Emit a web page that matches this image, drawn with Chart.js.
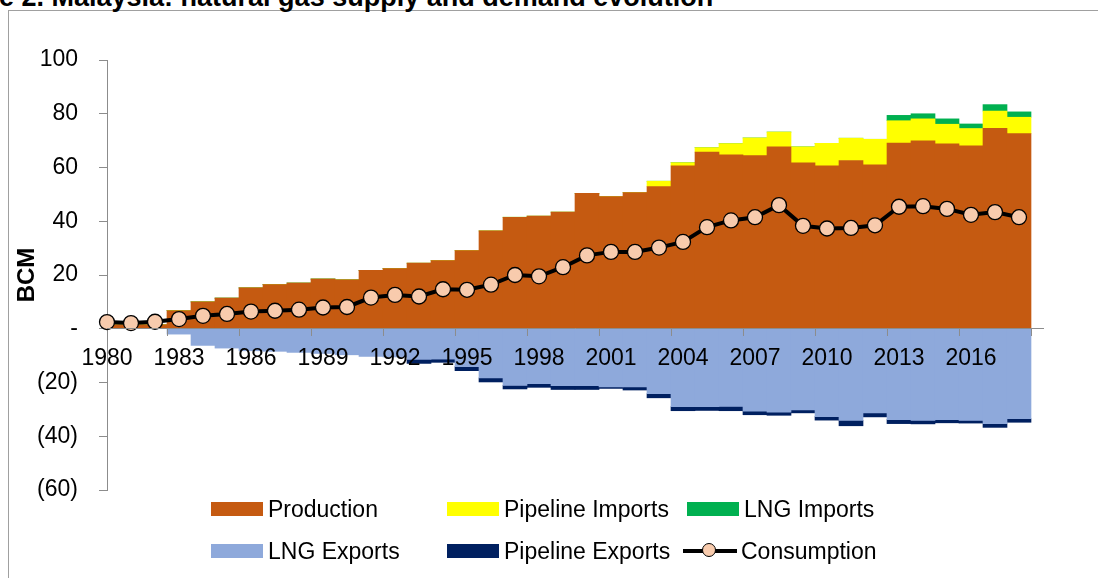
<!DOCTYPE html>
<html>
<head>
<meta charset="utf-8">
<script src="https://cdn.jsdelivr.net/npm/chart.js@4.4.0/dist/chart.umd.min.js"></script>
<style>
  html, body { margin: 0; padding: 0; background: #fff; }
  #wrap { position: relative; width: 1098px; height: 578px; overflow: hidden; font-family: "Liberation Sans", Arial, sans-serif; }
  #frame { position: absolute; left: 8px; top: 10px; width: 1200px; height: 700px; border: 1px solid #a0a0a0; }
  #title { position: absolute; left: -1px; top: -16px; font-size: 27px; line-height: 26px; font-weight: bold; white-space: nowrap; color: #000; }
  canvas { position: absolute; left: 0; top: 0; }
  .item { position: absolute; height: 30px; display: flex; align-items: center; font-size: 23px; color: #000; white-space: nowrap; }
  .sw { width: 52px; height: 14px; margin-right: 5px; }
  .linesw { position: relative; width: 54px; height: 30px; margin-right: 4px; }
  .linesw .ln { position: absolute; left: 0; top: 13px; width: 54px; height: 4px; background: #000; }
  .linesw .dot { position: absolute; left: 19px; top: 7px; width: 14px; height: 14px; border-radius: 50%; background: #F8CBAD; border: 1.3px solid #000; box-sizing: border-box; }
</style>
</head>
<body>
<div id="wrap">
  <div id="frame"></div>
  <div id="title">e 2. Malaysia: natural gas supply and demand evolution</div>
  <canvas id="chart" width="1098" height="578"></canvas>
  <div id="legend"></div>
</div>
<script>
// years on the category axis (2019 only closes the axis)
const years = ['1980','1981','1982','1983','1984','1985','1986','1987','1988','1989',
               '1990','1991','1992','1993','1994','1995','1996','1997','1998','1999',
               '2000','2001','2002','2003','2004','2005','2006','2007','2008','2009',
               '2010','2011','2012','2013','2014','2015','2016','2017','2018','2019'];

// BCM
const production = [1.5, 1.5, 1.5, 6.7, 10.0, 11.4, 15.2, 16.4, 17.0, 18.5,
                    18.2, 21.7, 22.4, 24.4, 25.4, 29.1, 36.4, 41.5, 41.9, 43.4,
                    50.4, 49.2, 50.7, 52.9, 60.6, 65.7, 64.7, 64.4, 67.7, 61.7,
                    60.6, 62.6, 61.0, 69.1, 69.9, 68.8, 68.1, 74.6, 72.6];
const pipelineImports = [0, 0, 0, 0, 0, 0, 0, 0, 0, 0,
                         0, 0, 0, 0, 0, 0, 0, 0, 0, 0,
                         0, 0, 0, 2.0, 1.2, 1.7, 4.2, 6.6, 5.5, 6.0,
                         8.4, 8.3, 9.5, 8.3, 8.2, 7.3, 6.4, 6.4, 6.1];
const lngImports = [0, 0, 0, 0, 0, 0, 0, 0, 0, 0,
                    0, 0, 0, 0, 0, 0, 0, 0, 0, 0,
                    0, 0, 0, 0, 0, 0, 0, 0, 0, 0,
                    0, 0, 0, 2.0, 1.9, 2.0, 1.7, 2.4, 2.0];
const lngExports = [0, 0, 0, -2.0, -6.2, -7.2, -8.2, -8.4, -8.8, -9.2,
                    -9.7, -10.3, -10.5, -11.4, -11.3, -14.1, -18.3, -21.1, -20.4, -21.2,
                    -21.2, -21.6, -21.6, -24.2, -29.0, -29.0, -28.9, -30.7, -31.0, -30.2,
                    -32.7, -34.1, -31.3, -33.8, -34.1, -33.8, -34.1, -35.3, -33.5];
const pipelineExports = [0, 0, 0, 0, 0, 0, 0, 0, 0, 0,
                         0, 0, 0, -1.5, -1.2, -1.5, -1.5, -1.3, -1.4, -1.4,
                         -1.4, -0.6, -1.2, -1.5, -1.5, -1.4, -1.6, -1.3, -1.2, -1.1,
                         -1.3, -2.0, -1.5, -1.5, -1.3, -1.2, -1.0, -1.4, -1.3];
const consumption = [2.5, 2.1, 2.6, 3.6, 4.8, 5.5, 6.4, 6.7, 7.1, 7.9,
                     8.1, 11.6, 12.6, 12.0, 14.7, 14.5, 16.4, 20.0, 19.5, 22.9,
                     27.3, 28.6, 28.6, 30.2, 32.3, 37.8, 40.3, 41.5, 46.0, 38.3,
                     37.3, 37.5, 38.5, 45.4, 45.6, 44.6, 42.4, 43.4, 41.5];

const yTicks = [100, 80, 60, 40, 20, 0, -20, -40, -60];

const axisGray = '#8c8c8c';
const family = '"Liberation Sans", Arial, sans-serif';

function yLabel(v) {
  if (v === 0) return '-';
  if (v < 0) return '(' + (-v) + ')';
  return String(v);
}

const chart = new Chart(document.getElementById('chart'), {
  type: 'bar',
  data: {
    labels: years,
    datasets: [
      { type: 'line', label: 'Consumption', data: consumption, stack: 'cons', order: 0,
        borderColor: '#000', borderWidth: 4, tension: 0, clip: false,
        pointRadius: 7.5, pointHoverRadius: 7.5, pointBackgroundColor: '#F8CBAD',
        pointBorderColor: '#000', pointBorderWidth: 1.3 },
      { label: 'Production', data: production, backgroundColor: '#C55A11', stack: 'gas', order: 1 },
      { label: 'Pipeline Imports', data: pipelineImports, backgroundColor: '#FFFF00', stack: 'gas', order: 1 },
      { label: 'LNG Imports', data: lngImports, backgroundColor: '#00B050', stack: 'gas', order: 1 },
      { label: 'LNG Exports', data: lngExports, backgroundColor: '#8EA9DB', stack: 'gas', order: 1 },
      { label: 'Pipeline Exports', data: pipelineExports, backgroundColor: '#002060', stack: 'gas', order: 1 }
    ]
  },
  options: {
    responsive: false,
    animation: false,
    layout: { padding: { left: 0, right: 55, top: 60, bottom: 88 } },
    datasets: { bar: { barPercentage: 1, categoryPercentage: 1, borderWidth: 0 } },
    plugins: { legend: { display: false }, tooltip: { enabled: false } },
    scales: {
      x: {
        type: 'category',
        offset: false,
        stacked: true,
        position: { y: 0 },
        afterFit: s => { s.height = 0; },
        grid: {
          drawOnChartArea: false,
          tickLength: 7,
          z: 1,
          color: c => (c.index % 3 === 0 ? axisGray : 'rgba(0,0,0,0)')
        },
        border: { color: axisGray, width: 1, z: 1 },
        ticks: {
          z: 1,
          autoSkip: false,
          maxRotation: 0,
          padding: 9,
          color: '#000',
          font: { family: family, size: 23 },
          callback: (v, i) => (i % 3 === 0 && i < years.length - 1 ? years[i] : '')
        }
      },
      y: {
        stacked: true,
        min: -60,
        max: 100,
        afterFit: s => { s.width = 107; },
        afterBuildTicks: s => { s.ticks = yTicks.map(v => ({ value: v })); },
        grid: { drawOnChartArea: false, tickLength: 8, color: axisGray },
        border: { color: axisGray, width: 1 },
        ticks: {
          padding: 21,
          color: '#000',
          font: { family: family, size: 23 },
          callback: v => yLabel(v)
        },
        title: {
          display: true,
          text: 'BCM',
          color: '#000',
          padding: { top: 13, bottom: 0 },
          font: { family: family, size: 24, weight: 'bold' }
        }
      }
    }
  }
});

// legend laid out like the original: two rows of three
const legendSpots = [
  ['Production', 211, 509], ['Pipeline Imports', 447, 509], ['LNG Imports', 687, 509],
  ['LNG Exports', 211, 551], ['Pipeline Exports', 447, 551], ['Consumption', 683, 551]
];
const legend = document.getElementById('legend');
legendSpots.forEach(([name, x, y]) => {
  const ds = chart.data.datasets.find(d => d.label === name);
  const item = document.createElement('div');
  item.className = 'item';
  item.style.left = x + 'px';
  item.style.top = (y - 15) + 'px';
  let sw;
  if (ds.type === 'line') {
    sw = document.createElement('div');
    sw.className = 'linesw';
    sw.innerHTML = '<div class="ln"></div><div class="dot"></div>';
  } else {
    sw = document.createElement('div');
    sw.className = 'sw';
    sw.style.background = ds.backgroundColor;
  }
  item.appendChild(sw);
  const t = document.createElement('span');
  t.textContent = name;
  item.appendChild(t);
  legend.appendChild(item);
});
</script>
</body>
</html>
